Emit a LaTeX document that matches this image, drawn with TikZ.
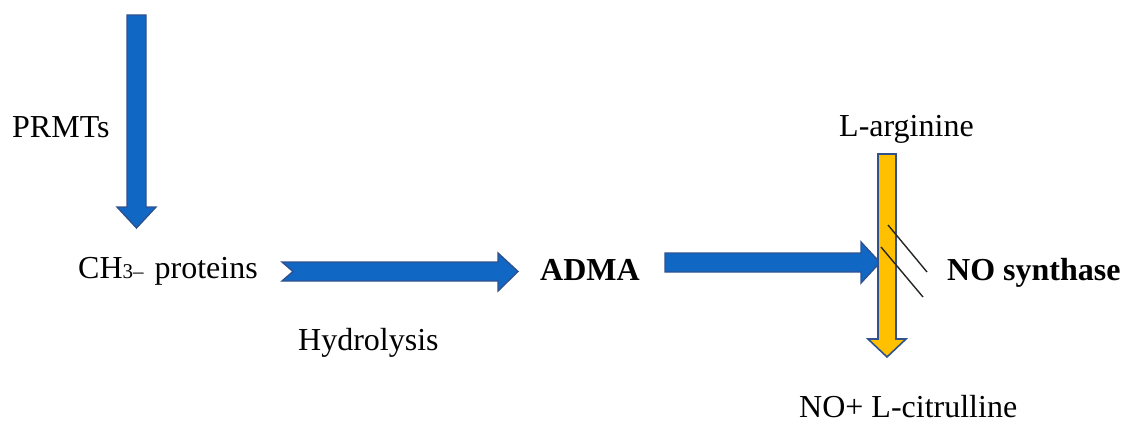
\documentclass[tikz,border=0pt]{standalone}
\usepackage{fontspec}
\setmainfont{Liberation Serif}
\definecolor{arrblue}{RGB}{16,104,196}
\definecolor{arredge}{RGB}{47,82,143}
\definecolor{arryellow}{RGB}{255,192,0}
\tikzset{
  bluearrow/.style={fill=arrblue, draw=arredge, line width=1.4pt, line join=miter},
  yellowarrow/.style={fill=arryellow, draw=arredge, line width=1.6pt, line join=miter},
  lbl/.style={anchor=base west, inner sep=0pt, font=\fontsize{32}{38}\selectfont},
  blbl/.style={lbl, font=\fontsize{32}{38}\selectfont\bfseries},
  slash/.style={draw=black!85, line width=1.4pt}
}
\begin{document}
\begin{tikzpicture}[x=1pt,y=-1pt]
\useasboundingbox (0,0) rectangle (1129,425);
% labels
\node[lbl] (prmts) at (12,137) {PRMTs};
\node[lbl] (ch3) at (78,278) {CH{\fontsize{21}{22}\selectfont 3–}\hspace{3pt} proteins};
\node[lbl] (hyd) at (298,350) {Hydrolysis};
\node[blbl] (adma) at (540,280) {ADMA};
\node[lbl] (larg) at (839,136) {L-arginine};
\node[blbl] (nos) at (947,280) {NO synthase};
\node[lbl] (cit) at (799,417) {NO+ L-citrulline};
% arrow 1: vertical blue
\path[bluearrow] (127,15) -- (146,15) -- (146,207) -- (156,207) -- (136.5,228)
  -- (117,207) -- (127,207) -- cycle;
% arrow 2: chevron-tail blue
\path[bluearrow] (282,262) -- (498,262) -- (498,253) -- (518,271.5) -- (498,291)
  -- (498,281) -- (282,281) -- (293,271.5) -- cycle;
% arrow 3: blue into the yellow one
\path[bluearrow] (665,253) -- (861,253) -- (861,242) -- (880,262.5) -- (861,283)
  -- (861,272) -- (665,272) -- cycle;
% yellow vertical arrow
\path[yellowarrow] (878,154) -- (896,154) -- (896,339) -- (906,339) -- (887,357)
  -- (868,339) -- (878,339) -- cycle;
% inhibition slashes
\coordinate (s1a) at (888,225); \coordinate (s1b) at (927,272);
\coordinate (s2a) at (881,247); \coordinate (s2b) at (923,297);
\draw[slash] (s1a) -- (s1b);
\draw[slash] (s2a) -- (s2b);
\end{tikzpicture}
\end{document}
